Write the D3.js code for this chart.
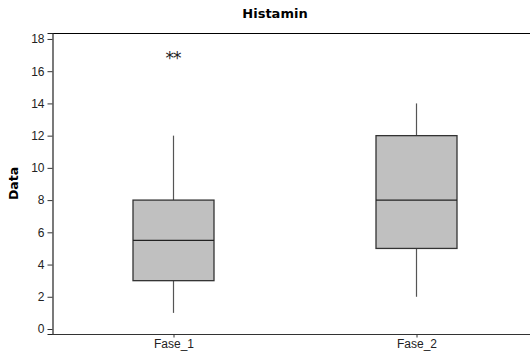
<!DOCTYPE html>
<html>
<head>
<meta charset="utf-8">
<script src="https://cdn.jsdelivr.net/npm/d3@7"></script>
<style>
  body { margin: 0; background: #fff; }
  svg { display: block; font-family: "DejaVu Sans", Verdana, sans-serif; }
</style>
</head>
<body>
<div id="chart"></div>
<script>
// data
const groups = ['Fase_1', 'Fase_2'];
const q1 = [3, 5];
const median = [5.5, 8];
const q3 = [8, 12];
const whiskLow = [1, 2];
const whiskHigh = [12, 14];
const outliers = [[17, 17], []];
const yTicks = [0, 2, 4, 6, 8, 10, 12, 14, 16, 18];

const w = 530, h = 355;
const mLeft = 52, mTop = 33, mBottom = 334, mRight = 538;

const svg = d3.select('#chart')
    .append('svg')
        .attr('width', w)
        .attr('height', h);

const x = d3.scalePoint()
    .domain(groups)
    .range([mLeft, mRight])
    .padding(0.5);

const y = d3.scaleLinear()
    .domain([-0.31, 18.37])
    .range([mBottom, mTop]);

const boxW = x.step() / 3;

// frame
svg.append('line')
    .attr('x1', mLeft).attr('x2', w)
    .attr('y1', mTop + 0.5).attr('y2', mTop + 0.5)
    .attr('stroke', '#000').attr('stroke-width', 1.2);

// y axis
const yAxis = svg.append('g')
    .attr('transform', `translate(${mLeft + 0.5},0)`)
    .call(d3.axisLeft(y).tickValues(yTicks).tickSize(5).tickPadding(3));
yAxis.select('.domain').attr('stroke', '#222').attr('stroke-width', 1.2);
yAxis.selectAll('.tick line').attr('stroke', '#333');
yAxis.selectAll('text').attr('font-size', 12).attr('fill', '#222');

// x axis
const xAxis = svg.append('g')
    .attr('transform', `translate(0,${mBottom + 0.5})`)
    .call(d3.axisBottom(x).tickSize(3).tickPadding(2));
xAxis.select('.domain').attr('stroke', '#333').attr('stroke-width', 1.2)
    .attr('d', `M${mLeft},0H${w}`);
xAxis.selectAll('.tick line').attr('stroke', '#333');
xAxis.selectAll('text').attr('font-size', 12).attr('fill', '#222');

// boxes
const idx = d3.range(groups.length);

svg.selectAll('.whisker-hi')
    .data(idx).enter()
    .append('line')
    .attr('x1', i => x(groups[i])).attr('x2', i => x(groups[i]))
    .attr('y1', i => y(q3[i])).attr('y2', i => y(whiskHigh[i]))
    .attr('stroke', '#555').attr('stroke-width', 1.2);

svg.selectAll('.whisker-lo')
    .data(idx).enter()
    .append('line')
    .attr('x1', i => x(groups[i])).attr('x2', i => x(groups[i]))
    .attr('y1', i => y(q1[i])).attr('y2', i => y(whiskLow[i]))
    .attr('stroke', '#555').attr('stroke-width', 1.2);

svg.selectAll('.box')
    .data(idx).enter()
    .append('rect')
    .attr('x', i => x(groups[i]) - boxW / 2)
    .attr('y', i => y(q3[i]))
    .attr('width', boxW)
    .attr('height', i => y(q1[i]) - y(q3[i]))
    .attr('fill', '#c0c0c0')
    .attr('stroke', '#333')
    .attr('stroke-width', 1.3);

svg.selectAll('.median')
    .data(idx).enter()
    .append('line')
    .attr('x1', i => x(groups[i]) - boxW / 2).attr('x2', i => x(groups[i]) + boxW / 2)
    .attr('y1', i => y(median[i])).attr('y2', i => y(median[i]))
    .attr('stroke', '#222').attr('stroke-width', 1.3);

// outliers (ties drawn side by side)
idx.forEach(i => {
    const pts = outliers[i];
    pts.forEach((v, k) => {
        const dx = (k - (pts.length - 1) / 2) * 7.5;
        svg.append('text')
            .attr('x', x(groups[i]) + dx)
            .attr('y', y(v) + 8.5)
            .attr('text-anchor', 'middle')
            .attr('font-size', 17)
            .attr('fill', '#222')
            .text('*');
    });
});

// title and y label
svg.append('text')
    .attr('x', 275).attr('y', 18)
    .attr('text-anchor', 'middle')
    .attr('font-size', 13)
    .attr('font-weight', 'bold')
    .text('Histamin');

svg.append('text')
    .attr('transform', `translate(18,${(mTop + mBottom) / 2}) rotate(-90)`)
    .attr('text-anchor', 'middle')
    .attr('font-size', 12.5)
    .attr('font-weight', 'bold')
    .text('Data');
</script>
</body>
</html>
